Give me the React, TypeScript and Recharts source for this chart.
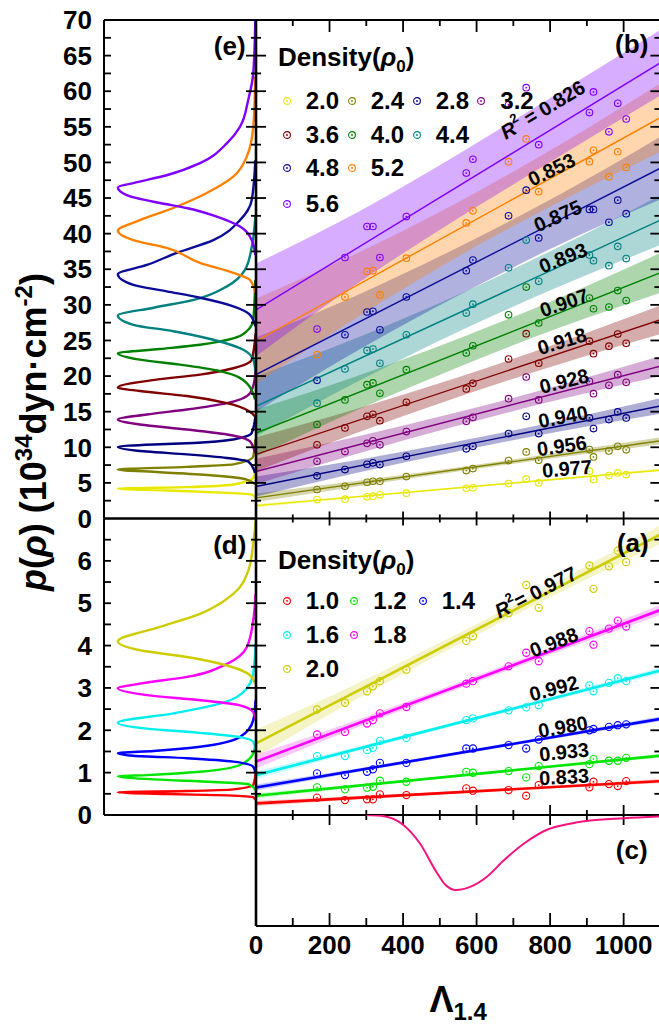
import React from 'react';
import { ComposedChart, Line, Area, Scatter, XAxis, YAxis, ReferenceDot } from 'recharts';

// Λ1.4 of every EOS in the sample (same x for all densities)
const lambdas = [166, 242, 302, 318, 337, 409, 572, 590, 687, 735, 769, 907, 918, 960, 984, 1007];

// panel (b) - high densities
const highDensities = ['2.0', '2.4', '2.8', '3.2', '3.6', '4.0', '4.4', '4.8', '5.2', '5.6'];
const pHigh20 = [2.66, 2.71, 3.04, 3.13, 3.32, 3.55, 4.25, 4.3, 4.91, 5.56, 5.0, 6.64, 5.47, 6.03, 6.4, 6.17];
const pHigh24 = [4.07, 4.53, 5.09, 5.23, 5.23, 5.89, 6.73, 7.01, 8.13, 9.35, 8.18, 9.68, 8.65, 9.49, 10.14, 9.64];
const pHigh28 = [5.99, 6.87, 7.62, 7.81, 7.57, 8.74, 9.78, 10.14, 11.92, 14.35, 11.92, 14.12, 12.62, 13.89, 14.96, 14.12];
const pHigh32 = [8.04, 9.4, 10.56, 10.9, 10.34, 12.2, 13.65, 14.21, 16.83, 19.87, 16.65, 19.26, 17.53, 18.7, 20.2, 19.12];
const pHigh36 = [10.34, 12.72, 14.35, 14.63, 13.74, 16.31, 18.19, 18.98, 22.4, 25.95, 21.8, 24.9, 23.14, 24.2, 25.9, 24.6];
const pHigh40 = [13.2, 16.65, 18.79, 19.03, 17.58, 20.9, 23.24, 24.26, 28.6, 32.5, 27.45, 30.95, 29.45, 29.7, 32.0, 30.6];
const pHigh44 = [16.2, 21.0, 23.6, 23.8, 21.8, 25.8, 28.85, 30.1, 35.2, 39.1, 33.3, 37.0, 36.2, 35.5, 38.2, 36.5];
const pHigh48 = [19.4, 25.8, 29.0, 29.1, 26.5, 31.1, 34.8, 36.3, 42.5, 46.1, 39.4, 43.4, 43.4, 41.6, 44.7, 42.8];
const pHigh52 = [23.0, 31.1, 34.7, 34.8, 31.4, 36.56, 41.5, 43.2, 50.1, 53.3, 45.9, 50.1, 51.7, 48.0, 51.5, 49.3];
const pHigh56 = [26.6, 36.65, 41.0, 41.0, 36.65, 42.4, 48.5, 50.45, 58.1, 60.5, 52.5, 57.0, 59.9, 54.3, 58.3, 56.1];
const highValues = [pHigh20, pHigh24, pHigh28, pHigh32, pHigh36, pHigh40, pHigh44, pHigh48, pHigh52, pHigh56];
const highColors = ['#e8e800', '#808000', '#000080', '#800080', '#800000', '#008000', '#008080', '#0c0c9a', '#ff8000', '#8000ff'];

// linear fits (value at Λ=0 and Λ=1100) and band half widths at the knots
const fitHigh0 = [1.8, 2.9, 4.5, 6.6, 9.0, 12.0, 15.75, 20.2, 24.9, 29.3];
const fitHigh1100 = [6.8, 10.9, 15.8, 21.4, 27.9, 34.5, 41.9, 49.2, 56.3, 64.0];
const bandKnots = [0, 275, 550, 825, 1100];
const bandHigh = [
  [0.25, 0.15, 0.12, 0.12, 0.2],
  [0.6, 0.4, 0.3, 0.35, 0.5],
  [1.4, 0.9, 0.7, 0.75, 1.1],
  [1.8, 1.2, 0.95, 1.0, 1.4],
  [2.4, 1.7, 1.4, 1.5, 2.0],
  [3.3, 2.4, 2.0, 2.1, 2.8],
  [4.2, 3.1, 2.6, 2.8, 3.5],
  [5.2, 3.9, 3.4, 3.5, 4.4],
  [6.0, 4.5, 3.8, 4.0, 4.8],
  [6.5, 5.0, 4.5, 4.5, 4.6],
];
const r2High = ['0.977', '0.956', '0.940', '0.928', '0.918', '0.907', '0.893', '0.875', '0.853', '0.826'];

// panel (a) - low densities
const lowDensities = ['1.0', '1.2', '1.4', '1.6', '1.8', '2.0'];
const pLow10 = [0.41, 0.353, 0.369, 0.369, 0.487, 0.471, 0.628, 0.573, 0.589, 0.455, 0.707, 0.652, 0.785, 0.73, 0.683, 0.8];
const pLow12 = [0.652, 0.605, 0.644, 0.667, 0.809, 0.785, 1.02, 0.997, 1.036, 0.888, 1.154, 1.2, 1.32, 1.28, 1.28, 1.35];
const pLow14 = [0.982, 0.942, 1.02, 1.077, 1.23, 1.23, 1.57, 1.57, 1.65, 1.57, 1.78, 2.0, 2.03, 2.08, 2.12, 2.14];
const pLow16 = [1.39, 1.39, 1.53, 1.585, 1.75, 1.82, 2.24, 2.28, 2.47, 2.54, 2.59, 3.06, 2.92, 3.12, 3.23, 3.16];
const pLow18 = [1.9, 1.96, 2.16, 2.24, 2.4, 2.55, 3.1, 3.16, 3.51, 3.83, 3.63, 4.34, 4.02, 4.4, 4.59, 4.45];
const pLow20 = [2.49, 2.65, 2.92, 3.04, 3.16, 3.43, 4.11, 4.22, 4.77, 5.43, 4.89, 5.89, 5.34, 5.87, 6.24, 5.97];
const lowValues = [pLow10, pLow12, pLow14, pLow16, pLow18, pLow20];
const lowColors = ['#ff0000', '#00e600', '#0000ff', '#00eeee', '#ff00ff', '#cccc00'];
const fitLow0 = [0.275, 0.455, 0.65, 0.94, 1.26, 1.69];
const fitLow1100 = [0.8, 1.4, 2.27, 3.41, 4.84, 6.62];
const bandLow = [
  [0.06, 0.04, 0.03, 0.03, 0.05],
  [0.06, 0.035, 0.03, 0.03, 0.045],
  [0.07, 0.045, 0.035, 0.04, 0.055],
  [0.09, 0.055, 0.045, 0.05, 0.07],
  [0.16, 0.09, 0.07, 0.08, 0.12],
  [0.32, 0.18, 0.13, 0.14, 0.22],
];
const r2Low = ['0.833', '0.933', '0.980', '0.992', '0.988', '0.977'];

// panel (e) - distributions [pressure, normalized density of states]
const distHigh20 = [[6.9, 0.003], [5.7, 0.02], [4.77, 0.164], [4.4, 0.5], [4.2, 1.0], [3.93, 0.646], [3.6, 0.21], [3.37, 0.031], [2.9, 0.003]];
const distHigh24 = [[11.1, 0.005], [8.7, 0.02], [7.6, 0.164], [7.25, 0.5], [6.87, 1.0], [6.5, 0.695], [6.03, 0.309], [5.47, 0.067], [4.8, 0.007]];
const distHigh28 = [[14.3, 0.005], [12.0, 0.031], [11.1, 0.164], [10.6, 0.45], [10.4, 0.74], [10.05, 1.0], [9.4, 0.79], [9.0, 0.5], [8.5, 0.21], [8.0, 0.056], [6.4, 0.007]];
const distHigh32 = [[21.0, 0.003], [19.5, 0.01], [17.6, 0.043], [16.2, 0.21], [15.3, 0.5], [14.6, 0.79], [13.9, 1.0], [13.2, 0.84], [12.5, 0.5], [11.8, 0.21], [10.8, 0.043], [9.2, 0.007]];
const distHigh36 = [[26.0, 0.003], [22.3, 0.031], [21.1, 0.164], [20.2, 0.405], [19.5, 0.72], [18.4, 1.0], [17.9, 0.84], [17.2, 0.5], [16.2, 0.21], [15.0, 0.043], [14.3, 0.007]];
const distHigh40 = [[33.5, 0.005], [27.9, 0.02], [26.3, 0.067], [25.3, 0.164], [24.4, 0.405], [23.8, 0.695], [23.2, 1.0], [22.3, 0.84], [21.6, 0.55], [20.7, 0.26], [19.0, 0.067], [16.7, 0.007]];
const distHigh44 = [[42.4, 0.005], [38.2, 0.03], [34.9, 0.08], [32.6, 0.21], [30.7, 0.45], [29.6, 0.74], [28.5, 1.0], [27.2, 0.888], [26.3, 0.598], [25.1, 0.309], [23.7, 0.092], [22.3, 0.02], [20.5, 0.003]];
const distHigh48 = [[50.3, 0.005], [44.7, 0.031], [41.9, 0.116], [39.1, 0.309], [37.3, 0.574], [35.6, 0.79], [34.3, 1.0], [32.8, 0.888], [31.9, 0.646], [31.0, 0.405], [29.8, 0.164], [28.6, 0.043], [27.0, 0.005]];
const distHigh52 = [[62.0, 0.005], [55.0, 0.02], [50.8, 0.067], [48.0, 0.164], [45.7, 0.357], [43.6, 0.598], [41.9, 0.84], [40.4, 1.0], [39.1, 0.888], [38.0, 0.646], [35.9, 0.405], [34.5, 0.164], [33.5, 0.043], [31.7, 0.005]];
const distHigh56 = [[70.0, 0.005], [62.5, 0.02], [58.8, 0.056], [55.0, 0.116], [52.7, 0.21], [49.9, 0.405], [48.2, 0.646], [47.1, 0.888], [46.5, 1.0], [45.4, 0.936], [44.3, 0.695], [43.6, 0.502], [42.4, 0.284], [41.0, 0.116], [39.1, 0.031], [37.0, 0.005]];
const distHigh = [distHigh20, distHigh24, distHigh28, distHigh32, distHigh36, distHigh40, distHigh44, distHigh48, distHigh52, distHigh56];

// panel (d)
const distLow10 = [[0.98, 0.003], [0.71, 0.02], [0.605, 0.164], [0.565, 0.5], [0.535, 1.0], [0.495, 0.646], [0.464, 0.21], [0.417, 0.02], [0.35, 0.003]];
const distLow12 = [[1.69, 0.003], [1.45, 0.02], [1.18, 0.116], [1.02, 0.405], [0.942, 0.79], [0.912, 1.0], [0.84, 0.74], [0.78, 0.309], [0.73, 0.056], [0.59, 0.003]];
const distLow14 = [[2.71, 0.003], [2.24, 0.02], [1.84, 0.116], [1.61, 0.405], [1.51, 0.74], [1.46, 1.0], [1.4, 0.888], [1.34, 0.5], [1.26, 0.164], [1.14, 0.02], [0.98, 0.003]];
const distLow16 = [[4.05, 0.003], [3.34, 0.02], [2.94, 0.08], [2.63, 0.26], [2.4, 0.598], [2.18, 1.0], [2.04, 0.79], [1.94, 0.405], [1.84, 0.116], [1.73, 0.02], [1.53, 0.003]];
const distLow18 = [[5.22, 0.003], [4.6, 0.02], [3.96, 0.067], [3.57, 0.21], [3.26, 0.5], [3.1, 0.84], [2.99, 1.0], [2.83, 0.79], [2.71, 0.405], [2.59, 0.116], [2.43, 0.02], [2.24, 0.003]];
const distLow20 = [[6.95, 0.003], [6.4, 0.02], [5.77, 0.056], [5.22, 0.164], [4.75, 0.405], [4.44, 0.695], [4.1, 1.0], [3.89, 0.84], [3.73, 0.5], [3.53, 0.21], [3.3, 0.043], [3.1, 0.007]];
const distLow = [distLow10, distLow12, distLow14, distLow16, distLow18, distLow20];

// panel (c)
const cLambda = [300, 340, 400, 446, 492, 515, 544, 584, 629, 675, 732, 790, 850, 903, 1001, 1100];
const cValue = [0, -0.01, -0.13, -0.38, -0.77, -0.93, -1.0, -0.956, -0.82, -0.6, -0.37, -0.2, -0.12, -0.077, -0.044, -0.02];

// ---- layout ----
const FONT = '"Liberation Sans", Arial, Helvetica, sans-serif';
const W = 662;
const H = 1026;
const PX0 = 256;
const PX1 = 660.4;
const LX = 104;
const Y_TOP = 20;
const Y_MID = 518.5;
const Y_LOW = 815;
const Y_C = 926;
const THIN = 0.01; // axes take (almost) no room, margins place the plots
const C_MIN = -1.48;

const r2HighPos = [[846, 7.0], [832, 10.2], [835, 14.3], [838, 19.3], [832, 24.9], [838, 30.3], [835, 36.6], [821, 42.5], [804, 49.0], [780, 57.4]];
const r2HighAngle = [5, 8, 11, 14, 17, 19, 22, 24, 26, 31];
const r2LowPos = [[838, 0.9], [838, 1.49], [835, 2.08], [810, 2.99], [810, 4.08], [761, 5.26]];
const r2LowAngle = [3, 6, 10, 15, 21, 27];

const steps = (a: number, b: number, s: number) => {
  const out: number[] = [];
  for (let v = a; v <= b + 1e-9; v += s) out.push(+v.toFixed(3));
  return out;
};
const X_MAJ = steps(0, 1000, 200);
const X_MIN = steps(100, 1100, 200);

const AX = { stroke: '#000', strokeWidth: 2 };
const TICK_FONT = { fontSize: 26, fontWeight: 700, fill: '#000', fontFamily: FONT };
const HIDDEN_LABEL = { fontSize: 1, fill: 'none' };
const blank = () => '';

// axis that only draws its line
const xLine = (id: string, orient: 'top' | 'bottom', dom: number[], line: any) => (
  <XAxis key={id} xAxisId={id} orientation={orient} type="number" domain={dom} allowDataOverflow ticks={dom}
    interval={0} tick={HIDDEN_LABEL} tickFormatter={blank} height={THIN} stroke="#000" axisLine={line} tickLine={false} />
);
const yLine = (id: string, orient: 'left' | 'right', dom: number[], line: any) => (
  <YAxis key={id} yAxisId={id} orientation={orient} type="number" domain={dom} allowDataOverflow ticks={dom}
    interval={0} tick={HIDDEN_LABEL} tickFormatter={blank} width={THIN} stroke="#000" axisLine={line} tickLine={false} />
);

// tick mark as a thin rect anchored at a data position, offsets in pixels [x1, y1, x2, y2]
const tickRect = (a: number[]) => (props: any) => {
  const cx = Number(props.cx);
  const cy = Number(props.cy);
  if (!isFinite(cx) || !isFinite(cy)) return <g />;
  const w = Math.abs(a[2] - a[0]);
  const h = Math.abs(a[3] - a[1]);
  const x = cx + Math.min(a[0], a[2]) - (w === 0 ? 0.9 : 0);
  const y = cy + Math.min(a[1], a[3]) - (h === 0 ? 0.9 : 0);
  return <rect x={x} y={y} width={w === 0 ? 1.8 : w} height={h === 0 ? 1.8 : h} fill="#000" />;
};
const tickDot = (key: string, xId: string, yId: string, x: number, y: number, a: number[]) => (
  <ReferenceDot key={key} xAxisId={xId} yAxisId={yId} x={x} y={y} r={0} ifOverflow="visible" shape={tickRect(a)} />
);
// move anchors that sit on a domain edge 1px inside the plot, keeping the drawn mark in place
const inset = (t: any, xMin: number, xMax: number, yMin: number, yMax: number, ux: number, uy: number) => {
  let { x, y } = t;
  let dx = 0;
  let dy = 0;
  if (x <= xMin) { x = xMin + ux; dx = -1; } else if (x >= xMax) { x = xMax - ux; dx = 1; }
  if (y <= yMin) { y = yMin + uy; dy = 1; } else if (y >= yMax) { y = yMax - uy; dy = -1; }
  return { x, y, a: [t.a[0] + dx, t.a[1] + dy, t.a[2] + dx, t.a[3] + dy] };
};

const ring = (color: string, r: number) => (props: any) => (
  <g>
    <circle cx={props.cx} cy={props.cy} r={r} fill="none" stroke={color} strokeWidth={1.1} />
    <circle cx={props.cx} cy={props.cy} r={0.9} fill={color} />
  </g>
);

const panelTag = (txt: string) => (props: any) => (
  <text x={props.cx} y={props.cy} textAnchor="middle" dominantBaseline="central" fontFamily={FONT} fontSize={26} fontWeight={700} fill="#000">{txt}</text>
);

const r2Tag = (value: string, angle: number, lead: string | null) => (props: any) => (
  <text x={props.cx} y={props.cy} transform={`rotate(${-angle}, ${props.cx}, ${props.cy})`} textAnchor="middle"
    dominantBaseline="central" fontFamily={FONT} fontSize={20} fontWeight={700} fill="#000">
    {lead !== null ? (
      <>
        <tspan fontStyle="italic">R</tspan>
        <tspan fontSize={13} dy={-8}>2</tspan>
        <tspan dy={8}>{lead + value}</tspan>
      </>
    ) : value}
  </text>
);

const YTitle = () => (
  <text transform="translate(46,432) rotate(-90)" textAnchor="middle" fontFamily={FONT} fontSize={36} fontWeight={700} fill="#000">
    <tspan fontStyle="italic">p</tspan>(<tspan fontStyle="italic">ρ</tspan>) (10<tspan fontSize={24} dy={-14}>34</tspan>
    <tspan dy={14}>dyn·cm</tspan><tspan fontSize={24} dy={-14}>-2</tspan><tspan dy={14}>)</tspan>
  </text>
);

const LambdaTitle = (props: any) => {
  const vb = props.viewBox && props.viewBox.width ? props.viewBox : { x: PX0, width: PX1 - PX0 };
  return (
    <text x={vb.x + vb.width / 2} y={1012} textAnchor="middle" fontFamily={FONT} fontSize={36} fontWeight={700} fill="#000">
      Λ<tspan fontSize={24} dy={8}>1.4</tspan>
    </text>
  );
};

function bandRows(fit0: number[], fit1: number[], band: number[][]) {
  return bandKnots.map((x, k) => {
    const row: any = { x };
    fit0.forEach((a, i) => {
      const f = a + ((fit1[i] - a) * x) / 1100;
      row['b' + i] = [f - band[i][k], f + band[i][k]];
      if (k === 0) row['f' + i] = a;
      if (k === bandKnots.length - 1) row['f' + i] = fit1[i];
    });
    return row;
  });
}

// tick positions + pixel offsets for a fit panel
function fitTicks(max: number, majors: number[], minors: number[], topBorder: boolean, ux: number, uy: number) {
  const bMaj = topBorder ? 7 : 10;
  const bMin = topBorder ? 4 : 5;
  const out: any[] = [];
  if (topBorder) {
    X_MAJ.forEach((v) => out.push({ x: v, y: max, a: [0, 0, 0, 12] }));
    X_MIN.forEach((v) => out.push({ x: v, y: max, a: [0, 0, 0, 6] }));
  }
  X_MAJ.forEach((v) => out.push({ x: v, y: 0, a: [0, -bMaj, 0, bMaj] }));
  X_MIN.forEach((v) => out.push({ x: v, y: 0, a: [0, -bMin, 0, bMin] }));
  majors.forEach((m) => out.push({ x: 0, y: m, a: [-10, 0, 10, 0] }));
  minors.forEach((m) => out.push({ x: 0, y: m, a: [-5, 0, 5, 0] }));
  majors.forEach((m) => out.push({ x: 1100, y: m, a: [-10, 0, 0, 0] }));
  minors.forEach((m) => out.push({ x: 1100, y: m, a: [-6, 0, 0, 0] }));
  return out.map((t) => inset(t, 0, 1100, 0, max, ux, uy));
}

const Layer = ({ children }: any) => <div style={{ position: 'absolute', left: 0, top: 0 }}>{children}</div>;

function DistPanel({ top, bottom, max, labels, minor, dists, colors, tag, tagAt, title }: any) {
  const off = (0.02 / 1.1) * (PX0 - LX);
  return (
    <ComposedChart layout="vertical" width={W} height={H} margin={{ top, left: LX, right: W - PX0, bottom: H - bottom }}>
      <XAxis xAxisId="d" type="number" domain={[0, 1.1]} reversed hide allowDataOverflow />
      {xLine('top', 'top', [0, 1], AX)}
      {xLine('bot', 'bottom', [0, 1], AX)}
      <YAxis yAxisId="p" type="number" dataKey="p" domain={[0, max]} reversed allowDataOverflow ticks={labels} interval={0} width={THIN}
        tickLine={false} tickSize={6} tickMargin={6} axisLine={AX} stroke="#000" tick={TICK_FONT}
        label={title ? <YTitle /> : undefined} />
      {dists.map((dist: number[][], i: number) => (
        <Line key={i} xAxisId="d" yAxisId="p" data={dist.map(([p, d]) => ({ p, d }))} dataKey="d" type="monotone"
          stroke={colors[i]} strokeWidth={2.4} dot={false} activeDot={false} isAnimationActive={false} />
      ))}
      {minor.map((m: number) => tickDot('m' + m, 'd', 'p', 1.08, m, [-off, 0, 7 - off, 0]))}
      <ReferenceDot xAxisId="d" yAxisId="p" x={tagAt[0]} y={tagAt[1]} r={0} shape={panelTag(tag)} />
    </ComposedChart>
  );
}

function FitPanel({ top, bottom, max, majors, minors, values, colors, fit0, fit1, band, bandOpacity, lineWidth, r, r2, r2Pos, r2Angle, r2Lead, tag, tagAt, topBorder }: any) {
  const rows = bandRows(fit0, fit1, band);
  const ux = 1100 / (PX1 - PX0);
  const uy = max / (bottom - top);
  const ticks = fitTicks(max, majors, minors, topBorder, ux, uy);
  return (
    <ComposedChart width={W} height={H} data={rows} margin={{ top, left: PX0, right: W - PX1, bottom: H - bottom }}>
      <XAxis xAxisId="x" dataKey="x" type="number" domain={[0, 1100]} hide allowDataOverflow />
      <YAxis yAxisId="y" dataKey="y" type="number" domain={[0, max]} hide allowDataOverflow />
      {topBorder && xLine('tl', 'top', [0, 1100], AX)}
      {xLine('bl', 'bottom', [0, 1100], AX)}
      {yLine('ll', 'left', [0, max], { stroke: '#000', strokeWidth: 2.6 })}
      {yLine('rl', 'right', [0, max], AX)}
      {values.map((vals: number[], i: number) => (
        <Scatter key={'s' + i} xAxisId="x" yAxisId="y" data={lambdas.map((x, j) => ({ x, y: vals[j] }))}
          fill={colors[i]} shape={ring(colors[i], r)} isAnimationActive={false} />
      ))}
      {values.map((_v: number[], i: number) => (
        <Area key={'a' + i} xAxisId="x" yAxisId="y" dataKey={'b' + i} type="monotone" stroke="none"
          fill={colors[i]} fillOpacity={bandOpacity} isAnimationActive={false} activeDot={false} />
      ))}
      {values.map((_v: number[], i: number) => (
        <Line key={'f' + i} xAxisId="x" yAxisId="y" dataKey={'f' + i} connectNulls stroke={colors[i]} strokeWidth={lineWidth}
          dot={false} activeDot={false} isAnimationActive={false} />
      ))}
      {ticks.map((t: any, k: number) => tickDot('t' + k, 'x', 'y', t.x, t.y, t.a))}
      {r2.map((v: string, i: number) => (
        <ReferenceDot key={'r' + i} xAxisId="x" yAxisId="y" x={r2Pos[i][0]} y={r2Pos[i][1]} r={0}
          shape={r2Tag(v, r2Angle[i], i === r2.length - 1 ? r2Lead : null)} />
      ))}
      <ReferenceDot xAxisId="x" yAxisId="y" x={tagAt[0]} y={tagAt[1]} r={0} shape={panelTag(tag)} />
    </ComposedChart>
  );
}

function DiffPanel() {
  const data = cLambda.map((x, i) => ({ x, v: cValue[i] }));
  const ux = 1100 / (PX1 - PX0);
  const uy = -C_MIN / (Y_C - Y_LOW);
  const ticks = [
    ...X_MAJ.map((v) => ({ x: v, y: C_MIN, a: [0, 0, 0, -13] })),
    ...X_MIN.map((v) => ({ x: v, y: C_MIN, a: [0, 0, 0, -8] })),
  ].map((t) => inset(t, 0, 1100, C_MIN, 0, ux, uy));
  return (
    <ComposedChart width={W} height={H} data={data} margin={{ top: Y_LOW, left: PX0, right: W - PX1, bottom: H - Y_C }}>
      <XAxis xAxisId="x" dataKey="x" type="number" domain={[0, 1100]} hide allowDataOverflow />
      <YAxis yAxisId="y" type="number" domain={[C_MIN, 0]} hide allowDataOverflow />
      {xLine('bl', 'bottom', [0, 1100], AX)}
      <XAxis xAxisId="lab" dataKey="x" orientation="bottom" type="number" domain={[0, 1100]} allowDataOverflow ticks={X_MAJ} interval={0}
        height={THIN} tickSize={0} tickMargin={10} tickLine={false} axisLine={false} tick={TICK_FONT} label={<LambdaTitle />} />
      {yLine('ll', 'left', [C_MIN, 0], { stroke: '#000', strokeWidth: 2.6 })}
      <Line xAxisId="x" yAxisId="y" dataKey="v" type="monotone" stroke="#f5137d" strokeWidth={2} dot={false}
        activeDot={false} isAnimationActive={false} />
      {ticks.map((t: any, k: number) => tickDot('c' + k, 'x', 'y', t.x, t.y, t.a))}
      <ReferenceDot xAxisId="x" yAxisId="y" x={1022} y={-0.47} r={0} shape={panelTag('(c)')} />
    </ComposedChart>
  );
}

const legendHighRow = [0, 0, 0, 0, 1, 1, 1, 2, 2, 3];
const legendHighCol = [0, 1, 2, 3, 0, 1, 2, 0, 1, 0];
const legendLowRow = [0, 0, 0, 1, 1, 2];
const legendLowCol = [0, 1, 2, 0, 1, 0];

function DensityLegend({ titleY, colX, rowY, labels, colors, rows, cols }: any) {
  return (
    <>
      <div style={{ position: 'absolute', left: 278, top: titleY - 15, fontSize: 26, fontWeight: 700, lineHeight: '30px', whiteSpace: 'nowrap' }}>
        Density(<i>ρ</i><sub style={{ fontSize: 17, lineHeight: 0 }}>0</sub>)
      </div>
      {labels.map((lab: string, i: number) => {
        const cx = colX[cols[i]];
        const cy = rowY[rows[i]];
        return (
          <React.Fragment key={lab}>
            <svg style={{ position: 'absolute', left: cx - 6, top: cy - 6 }} width={12} height={12}>
              <circle cx={6} cy={6} r={3.4} fill="none" stroke={colors[i]} strokeWidth={1.1} />
              <circle cx={6} cy={6} r={0.9} fill={colors[i]} />
            </svg>
            <div style={{ position: 'absolute', left: cx + 19, top: cy - 14, fontSize: 24, fontWeight: 700, lineHeight: '28px' }}>{lab}</div>
          </React.Fragment>
        );
      })}
    </>
  );
}

export default function App() {
  return (
    <div style={{ position: 'absolute', left: 0, top: 0, width: 659, height: 1026, overflow: 'hidden', background: '#fff', fontFamily: FONT, color: '#000' }}>
      <Layer>
        <DistPanel top={Y_TOP} bottom={Y_MID} max={70} labels={steps(0, 70, 5)} minor={steps(2.5, 67.5, 2.5)}
          dists={distHigh} colors={highColors} tag="(e)" tagAt={[0.19, 66.3]} title />
      </Layer>
      <Layer>
        <DistPanel top={Y_MID} bottom={Y_LOW} max={7} labels={steps(0, 6, 1)} minor={steps(0.5, 6.5, 0.5)}
          dists={distLow} colors={lowColors} tag="(d)" tagAt={[0.19, 6.37]} title={false} />
      </Layer>
      <Layer>
        <FitPanel top={Y_TOP} bottom={Y_MID} max={70} majors={steps(5, 65, 5)} minors={steps(2.5, 67.5, 5)}
          values={highValues} colors={highColors} fit0={fitHigh0} fit1={fitHigh1100} band={bandHigh} bandOpacity={0.32}
          lineWidth={1.4} r={3.3} r2={r2High} r2Pos={r2HighPos} r2Angle={r2HighAngle} r2Lead=" = "
          tag="(b)" tagAt={[1022, 66.6]} topBorder />
      </Layer>
      <Layer>
        <FitPanel top={Y_MID} bottom={Y_LOW} max={7} majors={steps(1, 6, 1)} minors={steps(0.5, 6.5, 1)}
          values={lowValues} colors={lowColors} fit0={fitLow0} fit1={fitLow1100} band={bandLow} bandOpacity={0.22}
          lineWidth={2.6} r={3.6} r2={r2Low} r2Pos={r2LowPos} r2Angle={r2LowAngle} r2Lead="= "
          tag="(a)" tagAt={[1025, 6.42]} topBorder={false} />
      </Layer>
      <Layer>
        <DiffPanel />
      </Layer>
      <DensityLegend titleY={57} colX={[286.7, 351.7, 416.7, 481.3]} rowY={[101, 135, 168.3, 204]}
        labels={highDensities} colors={highColors} rows={legendHighRow} cols={legendHighCol} />
      <DensityLegend titleY={560} colX={[286.7, 354.3, 422.7]} rowY={[601, 635, 669]}
        labels={lowDensities} colors={lowColors} rows={legendLowRow} cols={legendLowCol} />
    </div>
  );
}
